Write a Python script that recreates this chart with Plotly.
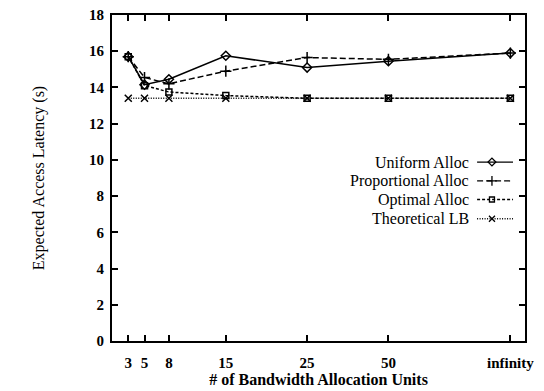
import plotly.graph_objects as go

# ---- data ----
x_labels = ["3", "5", "8", "15", "25", "50", "infinity"]
x_pos = [3, 5, 8, 15, 25, 35, 50]          # plotting positions used by the original figure
uniform = [15.7, 14.15, 14.45, 15.75, 15.1, 15.45, 15.9]
proportional = [15.7, 14.55, 14.2, 14.9, 15.65, 15.55, 15.9]
optimal = [15.7, 14.1, 13.75, 13.55, 13.4, 13.4, 13.4]
theoretical = [13.4, 13.4, 13.4, 13.4, 13.4, 13.4, 13.4]
series_names = ["Uniform Alloc", "Proportional Alloc", "Optimal Alloc", "Theoretical LB"]
y_ticks = [0, 2, 4, 6, 8, 10, 12, 14, 16, 18]

styles = [
    dict(dash="solid", symbol="diamond-open", size=7),
    dict(dash="6px,3px", symbol="cross-thin-open", size=8),
    dict(dash="3px,2px", symbol="square-open", size=6),
    dict(dash="1px,1.5px", symbol="x-thin-open", size=7),
]
series = [uniform, proportional, optimal, theoretical]

FONT = "Liberation Serif, Times New Roman, serif"
fig = go.Figure()
for name, ys, st in zip(series_names, series, styles):
    fig.add_trace(go.Scatter(
        x=x_pos, y=ys, name=name, mode="lines+markers",
        line=dict(color="black", width=1.5, dash=st["dash"]),
        marker=dict(symbol=st["symbol"], size=st["size"], color="black",
                    line=dict(color="black", width=1.5)),
        showlegend=False, cliponaxis=False,
    ))

# custom legend (text right-aligned, sample on the right) on an overlay axis
row_y = [0.549, 0.491, 0.434, 0.375]
for name, st, ry in zip(series_names, styles, row_y):
    fig.add_trace(go.Scatter(
        x=[0.884, 0.971], y=[ry, ry], mode="lines", xaxis="x2", yaxis="y2",
        line=dict(color="black", width=1.3, dash=st["dash"]), showlegend=False, hoverinfo="skip"))
    fig.add_trace(go.Scatter(
        x=[0.92], y=[ry], mode="markers", xaxis="x2", yaxis="y2",
        marker=dict(symbol=st["symbol"], size=st["size"] - 1, color="black",
                    line=dict(color="black", width=1.3)),
        showlegend=False, hoverinfo="skip"))
    fig.add_annotation(x=0.867, y=ry, xref="x2", yref="y2", text=name, showarrow=False,
                       xanchor="right", yanchor="middle", borderpad=0,
                       font=dict(family=FONT, size=16, color="black"))

axis_common = dict(showline=True, linecolor="black", linewidth=2, mirror="ticks",
                   ticks="inside", ticklen=6, tickwidth=1.5, tickcolor="black",
                   showgrid=False, zeroline=False, automargin=False,
                   tickfont=dict(family=FONT, size=15, color="black", weight="bold"))

fig.update_layout(
    width=544, height=391,
    margin=dict(l=112, r=19, t=15, b=50),
    paper_bgcolor="white", plot_bgcolor="white",
    xaxis=dict(range=[1, 51.8], tickvals=x_pos, ticktext=x_labels, ticklabelstandoff=7,
               title=dict(text="# of Bandwidth Allocation Units", standoff=0,
                          font=dict(family=FONT, size=16, color="black", weight="bold")),
               **axis_common),
    yaxis=dict(range=[0, 18], tickvals=y_ticks, ticklabelstandoff=3,
               title=dict(text="Expected Access Latency (s)", standoff=40,
                          font=dict(family=FONT, size=16, color="black")),
               **axis_common),
    xaxis2=dict(overlaying="x", range=[0, 1], visible=False),
    yaxis2=dict(overlaying="y", range=[0, 1], visible=False),
)

fig.write_html("out.html")
